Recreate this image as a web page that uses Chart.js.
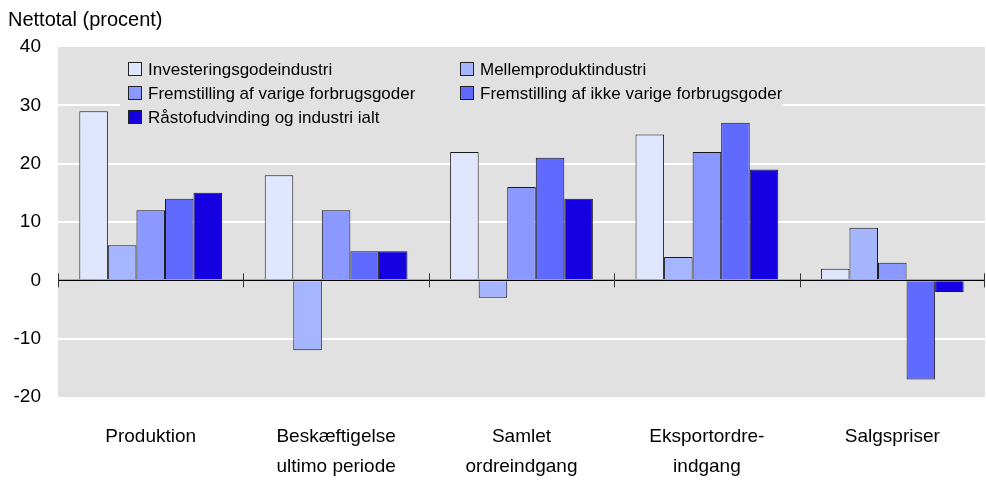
<!DOCTYPE html>
<html><head><meta charset="utf-8">
<script src="https://cdn.jsdelivr.net/npm/chart.js@4/dist/chart.umd.min.js"></script>
<style>html,body{margin:0;padding:0;background:#fff}#wrap{width:986px;height:481px}</style>
</head><body><div id="wrap"><canvas id="c" width="986" height="481"></canvas></div>
<script>
const categories = [["Produktion"],["Beskæftigelse","ultimo periode"],["Samlet","ordreindgang"],["Eksportordre-","indgang"],["Salgspriser"]];
const seriesNames = ["Investeringsgodeindustri","Mellemproduktindustri","Fremstilling af varige forbrugsgoder","Fremstilling af ikke varige forbrugsgoder","Råstofudvinding og industri ialt"];
const investering = [29, 18, 22, 25, 2];
const mellemprodukt = [6, -12, -3, 4, 9];
const varige = [12, 12, 16, 22, 3];
const ikkeVarige = [14, 5, 21, 27, -17];
const raastof = [15, 5, 14, 19, -2];
const yTicks = [40, 30, 20, 10, 0, -10, -20];
const colors = ["#dfe6fd","#a5b5ff","#8a98ff","#606aff","#1400e0"];
const FONT = "'Liberation Sans', Arial, sans-serif";

const seriesValues = [investering, mellemprodukt, varige, ikkeVarige, raastof];

const bgPlugin = {
  id: 'bg',
  beforeDraw(chart) {
    const {ctx, chartArea: a} = chart;
    ctx.save();
    ctx.fillStyle = '#e1e1e1';
    ctx.fillRect(a.left, a.top, a.right - a.left, a.bottom - a.top);
    ctx.restore();
  },
  beforeDatasetsDraw(chart) {
    const {ctx} = chart;
    ctx.save();
    ctx.fillStyle = '#e1e1e1';
    ctx.fillRect(120, 54, 662, 74);
    ctx.restore();
  },
  afterDatasetsDraw(chart) {
    const {ctx, chartArea: a, scales} = chart;
    const y0 = scales.y.getPixelForValue(0);
    ctx.save();
    ctx.strokeStyle = '#000';
    ctx.lineWidth = 1.2;
    ctx.beginPath();
    ctx.moveTo(a.left, y0); ctx.lineTo(a.right, y0);
    ctx.stroke();
    const n = categories.length;
    ctx.strokeStyle = '#333';
    ctx.lineWidth = 1;
    for (let i = 0; i <= n; i++) {
      let x;
      if (i === 0) x = a.left; else if (i === n) x = a.right - 1;
      else x = (scales.x.getPixelForValue(i - 1) + scales.x.getPixelForValue(i)) / 2;
      x = Math.round(x) + 0.5;
      ctx.beginPath(); ctx.moveTo(x, y0 - 7); ctx.lineTo(x, y0 + 7); ctx.stroke();
    }
    // legend
    ctx.font = '17px ' + FONT;
    ctx.textBaseline = 'middle';
    const pos = [[128,69],[460,69],[128,93],[460,93],[128,117]];
    for (let i = 0; i < 5; i++) {
      const [x, y] = pos[i];
      ctx.fillStyle = colors[i];
      ctx.fillRect(x + 0.5, y - 6.5, 13, 13);
      ctx.strokeStyle = '#222';
      ctx.strokeRect(x + 0.5, y - 6.5, 13, 13);
      ctx.fillStyle = '#000';
      ctx.fillText(seriesNames[i], x + 20, y + 1);
    }
    ctx.restore();
  },
  afterDraw(chart) {
    const {ctx} = chart;
    ctx.save();
    ctx.font = '20px ' + FONT;
    ctx.fillStyle = '#000';
    ctx.textBaseline = 'alphabetic';
    ctx.fillText('Nettotal (procent)', 8, 26);
    ctx.restore();
  }
};

new Chart(document.getElementById('c'), {
  type: 'bar',
  data: {
    labels: categories,
    datasets: seriesValues.map((v, i) => ({
      label: seriesNames[i],
      data: v,
      backgroundColor: colors[i],
      borderColor: '#1a1a1a',
      borderWidth: 1,
      categoryPercentage: 0.77,
      barPercentage: 1.0
    }))
  },
  options: {
    responsive: false,
    animation: false,
    devicePixelRatio: 1,
    layout: { padding: { left: 0, right: 1, top: 47, bottom: 0 } },
    plugins: { legend: { display: false }, tooltip: { enabled: false }, title: { display: false } },
    scales: {
      x: {
        afterFit(scale) { scale.height = 84; },
        grid: { display: false, drawTicks: false },
        border: { display: false },
        ticks: { color: '#000', font: { family: FONT, size: 19, lineHeight: 1.58 }, padding: 25, maxRotation: 0, autoSkip: false }
      },
      y: {
        min: -20, max: 40,
        afterFit(scale) { scale.width = 58; },
        afterBuildTicks(scale) { scale.ticks = yTicks.map(v => ({ value: v })); },
        grid: {
          drawTicks: false,
          color: ctx => (ctx.tick && (ctx.tick.value === 40 || ctx.tick.value === -20 || ctx.tick.value === 0)) ? 'rgba(0,0,0,0)' : '#ffffff',
          lineWidth: 2
        },
        border: { display: false },
        ticks: { color: '#000', font: { family: FONT, size: 19 }, padding: 17 }
      }
    }
  },
  plugins: [bgPlugin]
});
</script></body></html>
